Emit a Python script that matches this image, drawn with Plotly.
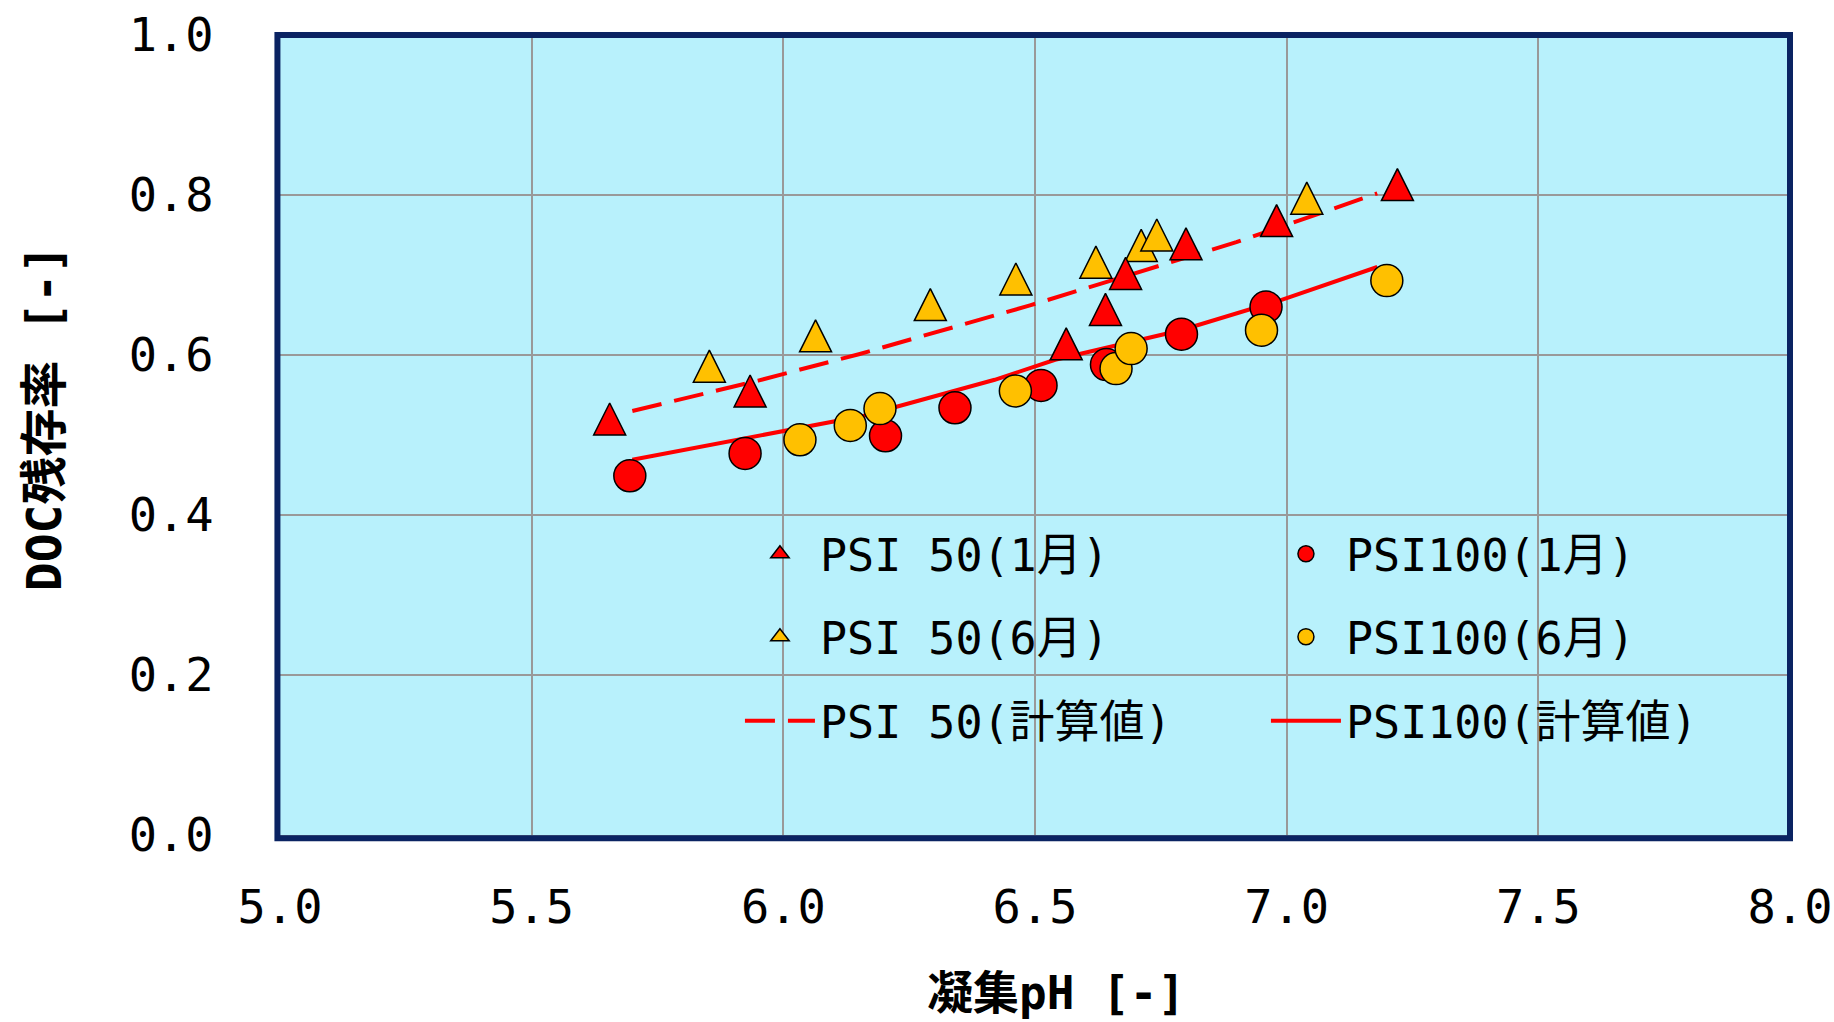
import plotly.graph_objects as go

# measured DOC residual ratio vs coagulation pH
psi50_jan_ph = [5.655, 5.934, 6.562, 6.640, 6.680, 6.800, 6.980, 7.220]
psi50_jan_doc = [0.520, 0.555, 0.614, 0.657, 0.702, 0.739, 0.768, 0.813]
psi50_jun_ph = [5.853, 6.064, 6.292, 6.462, 6.621, 6.711, 6.742, 7.040]
psi50_jun_doc = [0.586, 0.624, 0.663, 0.695, 0.716, 0.737, 0.750, 0.796]

psi100_jan_ph = [5.695, 5.924, 6.203, 6.341, 6.512, 6.642, 6.791, 6.959]
psi100_jan_doc = [0.449, 0.477, 0.499, 0.534, 0.562, 0.588, 0.626, 0.660]
psi100_jun_ph = [6.033, 6.133, 6.192, 6.461, 6.661, 6.691, 6.950, 7.199]
psi100_jun_doc = [0.494, 0.512, 0.533, 0.555, 0.583, 0.608, 0.631, 0.693]

# calculated curves
calc50_ph = [5.70, 5.95, 6.15, 6.49, 6.90, 7.18]
calc50_doc = [0.530, 0.568, 0.601, 0.662, 0.741, 0.802]
calc100_ph = [5.70, 5.93, 6.16, 6.42, 6.54, 6.79, 6.99, 7.18]
calc100_doc = [0.469, 0.497, 0.524, 0.569, 0.594, 0.631, 0.669, 0.710]

x_ticks = [5.0, 5.5, 6.0, 6.5, 7.0, 7.5, 8.0]
y_ticks = [0.0, 0.2, 0.4, 0.6, 0.8, 1.0]

RED = "#FF0000"
YELLOW = "#FFC000"
BG = "#B8F1FC"
NAVY = "#0A2362"
MONO = "DejaVu Sans Mono, Noto Sans CJK JP"

fig = go.Figure()

# calculated lines (below the markers)
fig.add_trace(go.Scatter(
    x=calc50_ph, y=calc50_doc, mode="lines", name="PSI 50(計算値)",
    line=dict(color=RED, width=4, dash="30px,13px"),
    legend="legend3", legendrank=1,
))
fig.add_trace(go.Scatter(
    x=calc100_ph, y=calc100_doc, mode="lines", name="PSI100(計算値)",
    line=dict(color=RED, width=4),
    legend="legend3", legendrank=2,
))


def tri(color):
    # arrow-down turned 180deg + standoff gives an upright, centred, tall triangle
    return dict(symbol="arrow-down", angle=180, standoff=16, size=32,
                color=color, line=dict(color="black", width=1.5))


def dot(color):
    return dict(symbol="circle", size=32, color=color,
                line=dict(color="black", width=1.5))


fig.add_trace(go.Scatter(x=psi50_jun_ph, y=psi50_jun_doc, mode="markers",
                         marker=tri(YELLOW), showlegend=False))
fig.add_trace(go.Scatter(x=psi50_jan_ph, y=psi50_jan_doc, mode="markers",
                         marker=tri(RED), showlegend=False))
fig.add_trace(go.Scatter(x=psi100_jan_ph, y=psi100_jan_doc, mode="markers",
                         name="PSI100(1月)", marker=dot(RED),
                         legend="legend", legendrank=2))
fig.add_trace(go.Scatter(x=psi100_jun_ph, y=psi100_jun_doc, mode="markers",
                         name="PSI100(6月)", marker=dot(YELLOW),
                         legend="legend2", legendrank=2))

# legend-only entries for the triangles
for nm, col, lg in [("PSI 50(1月)", RED, "legend"), ("PSI 50(6月)", YELLOW, "legend2")]:
    fig.add_trace(go.Scatter(
        x=[None], y=[None], mode="markers", name=nm, legend=lg, legendrank=1,
        marker=dict(symbol="triangle-up", size=32, color=col,
                    line=dict(color="black", width=1.5)),
    ))


def row_legend(y):
    return dict(
        x=0.3046, xanchor="left", y=y, yanchor="middle",
        orientation="h", bgcolor="rgba(0,0,0,0)", borderwidth=0,
        font=dict(family=MONO, size=45, color="black"),
        itemwidth=70, entrywidth=441, traceorder="normal",
    )


fig.update_layout(
    width=1834, height=1022,
    margin=dict(l=280, r=44, t=35, b=187),
    paper_bgcolor="white", plot_bgcolor=BG,
    showlegend=True,
    legend=row_legend(0.3512),
    legend2=row_legend(0.2475),
    legend3=row_legend(0.1425),
    xaxis=dict(
        range=[5.0, 8.0], tickvals=x_ticks, ticktext=["%.1f" % v for v in x_ticks],
        showgrid=True, gridcolor="#999999", gridwidth=2, zeroline=False,
        ticks="", ticklabelstandoff=30, ticklabeloverflow="allow", automargin=False,
        showline=True, linecolor="#9A9A9A", linewidth=2,
        tickfont=dict(family=MONO, size=47, color="black"),
    ),
    yaxis=dict(
        range=[0.0, 1.0], tickvals=y_ticks, ticktext=["%.1f" % v for v in y_ticks],
        showgrid=True, gridcolor="#999999", gridwidth=2, zeroline=False,
        ticks="", ticklabelstandoff=55, ticklabeloverflow="allow", automargin=False,
        showline=True, linecolor="#9A9A9A", linewidth=2,
        tickfont=dict(family=MONO, size=47, color="black"),
    ),
    shapes=[
        # legend area hides the grid
        dict(type="rect", xref="paper", yref="paper", x0=0.2808, x1=0.9808,
             y0=0.085, y1=0.401, fillcolor=BG, line=dict(width=0), layer="between"),
        # plot frame, sitting just outside the grey axis lines
        dict(type="rect", xref="paper", yref="paper", x0=-0.0017, x1=1.0, y0=-0.004, y1=1.0,
             line=dict(color=NAVY, width=6), layer="above"),
    ],
    annotations=[
        dict(text="<b>凝集pH [-]</b>", xref="paper", yref="paper", x=0.514, y=-0.197,
             xanchor="center", yanchor="middle", showarrow=False,
             font=dict(family=MONO, size=46, color="black")),
        dict(text="<b>DOC残存率 [-]</b>", xref="paper", yref="paper", x=-0.1563, y=0.521,
             xanchor="center", yanchor="middle", showarrow=False, textangle=-90,
             font=dict(family=MONO, size=48, color="black")),
    ],
)

fig.write_html(
    "out.html",
    config={"displayModeBar": False},
    post_script="document.body.style.margin='0px';document.body.style.overflow='hidden';",
)
